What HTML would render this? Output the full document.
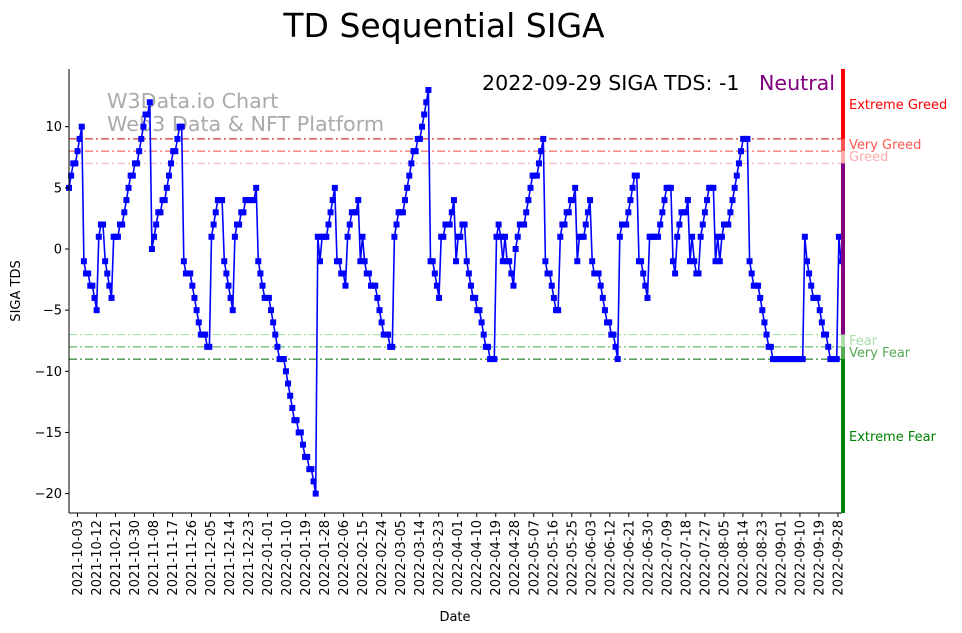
<!DOCTYPE html>
<html><head><meta charset="utf-8">
<style>
html,body{margin:0;padding:0;background:#fff;}
svg{display:block;font-family:"Liberation Sans","DejaVu Sans",sans-serif;}
</style></head>
<body>
<svg id="chart" width="962" height="633" viewBox="0 0 962 633" xmlns="http://www.w3.org/2000/svg">
<text x="444" y="37" font-size="33" text-anchor="middle" font-family="DejaVu Sans, Liberation Sans, sans-serif">TD Sequential SIGA</text>
<text x="107" y="108" font-size="20.7" fill="#aaaaaa" font-family="DejaVu Sans, Liberation Sans, sans-serif">W3Data.io Chart</text>
<text x="107" y="131" font-size="20.7" fill="#aaaaaa" font-family="DejaVu Sans, Liberation Sans, sans-serif">Web3 Data &amp; NFT Platform</text>
<text x="482" y="90" font-size="20.6" fill="#000" font-family="DejaVu Sans, Liberation Sans, sans-serif">2022-09-29 SIGA TDS: -1</text>
<text x="759" y="90" font-size="20.6" fill="#800080" font-family="DejaVu Sans, Liberation Sans, sans-serif">Neutral</text>
<g id="refs"></g>
<g id="series"></g>
<g id="axes"></g>
<g id="bar"></g>
<text transform="translate(20,291) rotate(-90)" font-size="13" text-anchor="middle" font-family="DejaVu Sans, Liberation Sans, sans-serif">SIGA TDS</text>
<text x="455" y="621" font-size="13" text-anchor="middle" font-family="DejaVu Sans, Liberation Sans, sans-serif">Date</text>
</svg>
<script>
const values = [
5,6,7,7,8,9,10,
-1,-2,-2,-3,-3,-4,-5,
1,2,2,-1,-2,-3,-4,
1,1,1,2,2,3,4,5,6,6,7,7,8,9,10,11,11,12,
0,1,2,3,3,4,4,5,6,7,8,8,9,10,10,
-1,-2,-2,-2,-3,-4,-5,-6,-7,-7,-7,-8,-8,
1,2,3,4,4,4,-1,-2,-3,-4,-5,
1,2,2,3,3,4,4,4,4,4,5,
-1,-2,-3,-4,-4,-4,-5,-6,-7,-8,-9,-9,-9,-10,
-11,-12,-13,-14,-14,-15,-15,-16,-17,-17,-18,-18,-19,-20,
1,-1,1,1,1,2,3,4,5,-1,
-1,-2,-2,-3,1,2,3,3,3,4,-1,1,-1,-2,
-2,-3,-3,-3,-4,-5,-6,-7,-7,-7,-8,-8,
1,2,3,3,3,4,5,6,7,8,8,9,9,10,11,12,13,
-1,-1,-2,-3,-4,1,1,2,2,2,3,4,-1,1,1,2,2,
-1,-2,-3,-4,-4,-5,-5,-6,-7,-8,-8,-9,-9,-9,
1,2,1,-1,1,-1,-1,-2,-3,0,1,2,2,2,3,4,5,6,6,6,7,8,9,
-1,-2,-2,-3,-4,-5,-5,1,2,2,3,3,4,4,5,-1,1,1,1,2,3,4,
-1,-2,-2,-2,-3,-4,-5,-6,-6,-7,-7,-8,-9,
1,2,2,2,3,4,5,6,6,-1,-1,-2,-3,-4,
1,1,1,1,1,2,3,4,5,5,5,-1,-2,1,2,3,3,3,4,-1,1,-1,-2,
-2,1,2,3,4,5,5,5,-1,1,-1,1,2,2,2,3,4,5,6,7,8,9,
9,9,-1,-2,-3,-3,-3,-4,-5,-6,-7,-8,-8,
-9,-9,-9,-9,-9,-9,-9,-9,-9,-9,-9,-9,-9,-9,-9,
1,-1,-2,-3,-4,-4,-4,-5,-6,-7,-7,-8,
-9,-9,-9,-9,1,-1
];
const startDate = "2021-09-29";
const yTicks = [10,5,0,-5,-10,-15,-20];
const xTickLabels = ["2021-10-03","2021-10-12","2021-10-21","2021-10-30","2021-11-08","2021-11-17","2021-11-26","2021-12-05","2021-12-14","2021-12-23","2022-01-01","2022-01-10","2022-01-19","2022-01-28","2022-02-06","2022-02-15","2022-02-24","2022-03-05","2022-03-14","2022-03-23","2022-04-01","2022-04-10","2022-04-19","2022-04-28","2022-05-07","2022-05-16","2022-05-25","2022-06-03","2022-06-12","2022-06-21","2022-06-30","2022-07-09","2022-07-18","2022-07-27","2022-08-05","2022-08-14","2022-08-23","2022-09-01","2022-09-10","2022-09-19","2022-09-28"];
const refLevels = [9,8,7,-7,-8,-9];
const refColors = ["#cc0000","#ee4444","#ffaaaa","#99dd99","#44aa44","#006600"];

const NS="http://www.w3.org/2000/svg";
const L=69,R=842,T=69,B=513;
const DAYPX=2.1125;
function x(d){return L+d*DAYPX;}
function xi(i){return L+i*(R-1-L)/(values.length-1);}
function y(v){return 249 - v*12.23;}
function dayOf(s){return Math.round((Date.parse(s)-Date.parse(startDate))/86400000);}
function mk(tag,attrs,parent){const e=document.createElementNS(NS,tag);for(const k in attrs)e.setAttribute(k,attrs[k]);parent.appendChild(e);return e;}

const refs=document.getElementById('refs');
refLevels.forEach((lv,i)=>{
  const l=mk('line',{x1:L,x2:R,y1:y(lv),y2:y(lv),stroke:refColors[i],'stroke-width':1,'stroke-dasharray':'8,3,2,3'},refs);
  
  
});

const ser=document.getElementById('series');
const pts=values.map((v,i)=>xi(i).toFixed(1)+','+y(v).toFixed(1)).join(' ');
const pl=mk('polyline',{points:pts,fill:'none',stroke:'#0000ff','stroke-width':1.6},ser);


values.forEach((v,i)=>{
  const r=mk('rect',{x:xi(i)-3,y:y(v)-3,width:6,height:6,fill:'#0000ff'},ser);
  
  
});

const ax=document.getElementById('axes');
const la=mk('line',{x1:L,x2:L,y1:T,y2:B,stroke:'#000','stroke-width':1},ax);


const ba=mk('line',{x1:L,x2:R,y1:B,y2:B,stroke:'#000','stroke-width':1},ax);


yTicks.forEach(t=>{
  mk('line',{x1:L-4,x2:L,y1:y(t),y2:y(t),stroke:'#000'},ax);
  const tx=mk('text',{x:L-7,y:y(t)+4.5,'font-size':13,'text-anchor':'end','font-family':'DejaVu Sans, Liberation Sans, sans-serif'},ax);
  tx.textContent=(t<0?'\u2212'+(-t):t);
  
  
});
xTickLabels.forEach(s=>{
  const xp=x(dayOf(s));
  mk('line',{x1:xp,x2:xp,y1:B,y2:B+4,stroke:'#000'},ax);
  const tx=mk('text',{transform:'translate('+(xp+4.5)+','+(B+7)+') rotate(-90)','font-size':13,'text-anchor':'end','font-family':'DejaVu Sans, Liberation Sans, sans-serif'},ax);
  tx.textContent=s;
  
  
});

const bar=document.getElementById('bar');
const segs=[[T,y(9),'#ff0000'],[y(9),y(8),'#ff5555'],[y(8),y(7),'#ffaaaa'],[y(7),y(-7),'#800080'],[y(-7),y(-8),'#aaddaa'],[y(-8),y(-9),'#55aa55'],[y(-9),B,'#008000']];
segs.forEach(s=>{
  const r=mk('rect',{x:841,y:s[0],width:4,height:s[1]-s[0],fill:s[2]},bar);
  
  
});
const zl=[["Extreme Greed",109,'#ff0000'],["Very Greed",149,'#ff5555'],["Greed",161,'#ffaaaa'],["Fear",345,'#aaddaa'],["Very Fear",357,'#55aa55'],["Extreme Fear",441,'#008000']];
zl.forEach(z=>{
  const t=mk('text',{x:849,y:z[1],'font-size':13,fill:z[2],'font-family':'DejaVu Sans, Liberation Sans, sans-serif'},bar);
  t.textContent=z[0];
  
  
});
</script>
</body></html>
